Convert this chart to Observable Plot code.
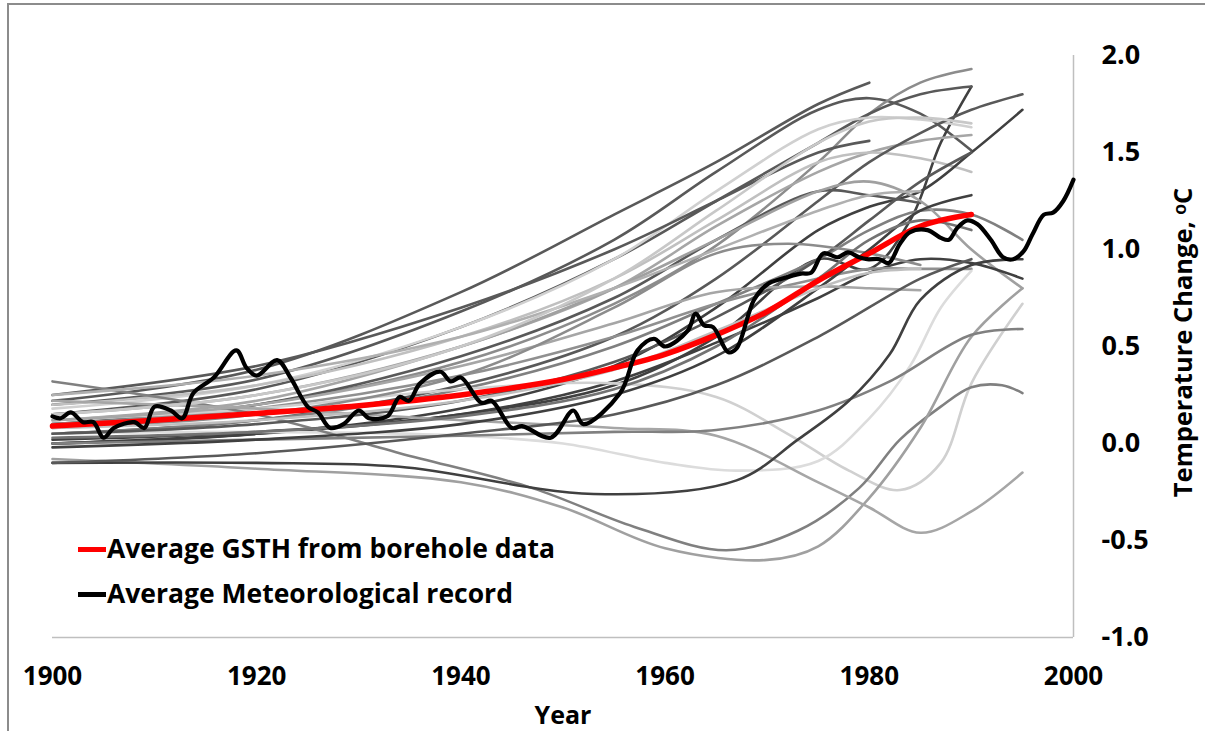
<!DOCTYPE html>
<html><head><meta charset="utf-8">
<script src="https://cdn.jsdelivr.net/npm/d3@7"></script>
<script src="https://cdn.jsdelivr.net/npm/@observablehq/plot@0.6"></script>
<style>
html,body{margin:0;padding:0;background:#fff;}
#wrap{position:relative;width:1205px;height:731px;overflow:hidden;font-family:"Open Sans",sans-serif;}
#frame{position:absolute;left:7px;top:3px;width:1300px;height:800px;border-left:2px solid #8c8c8c;border-top:2px solid #8c8c8c;}
#chart{position:absolute;left:0;top:0;}
#legend{position:absolute;left:78px;top:526px;font-weight:700;font-size:26.5px;color:#000;line-height:45px;white-space:nowrap;}
#legend .sw{display:inline-block;width:28px;height:5px;vertical-align:middle;margin-right:1px;position:relative;top:-1px;}
</style></head>
<body><div id="wrap"><div id="frame"></div><div id="chart"></div>
<div id="legend"><div><span class="sw" style="background:#ff0000"></span>Average GSTH from borehole data</div><div><span class="sw" style="background:#000"></span>Average Meteorological record</div></div>
</div>
<script>
// x tick labels and y tick labels
const xTicks = [1900, 1920, 1940, 1960, 1980, 2000];
const yTicks = [-1.0, -0.5, 0.0, 0.5, 1.0, 1.5, 2.0];

// Average GSTH (red)
const gsthYears = [1900,1910,1920,1930,1940,1950,1955,1960,1965,1970,1975,1980,1985,1990];
const gsthValues = [0.09,0.12,0.155,0.195,0.25,0.33,0.39,0.46,0.56,0.68,0.84,0.98,1.12,1.18];

// Average meteorological record (black)
const metYears = [1900,1900.8,1901.8,1903,1904,1905,1906,1908,1909,1910,1911.6,1912.7,1913.8,1915.8,1918,1919,1920,1922,1923.3,1925,1926,1927.2,1928.5,1930,1931,1932.8,1934,1934.9,1936,1938,1939,1940,1942,1943,1945,1946,1948.8,1951,1952,1955.6,1957.3,1958.9,1960,1962.2,1963,1963.8,1964.7,1966.2,1967,1968.7,1970,1971.5,1973.3,1974.3,1975.5,1976.9,1977.9,1979,1979.8,1981,1981.9,1983,1984,1985.7,1987,1987.8,1988.6,1989.6,1990.6,1991.9,1993.1,1994.1,1995.1,1996,1997.1,1998,1999,2000];
const metValues = [0.14,0.13,0.16,0.11,0.11,0.03,0.08,0.11,0.08,0.19,0.17,0.13,0.26,0.34,0.48,0.39,0.35,0.43,0.34,0.19,0.16,0.08,0.10,0.17,0.13,0.14,0.24,0.22,0.31,0.37,0.32,0.34,0.21,0.22,0.08,0.09,0.03,0.17,0.10,0.26,0.48,0.54,0.50,0.58,0.67,0.61,0.60,0.47,0.49,0.74,0.82,0.85,0.876,0.88,0.98,0.96,0.985,0.96,0.95,0.95,0.93,1.03,1.09,1.10,1.06,1.05,1.11,1.15,1.13,1.05,0.96,0.95,0.99,1.08,1.18,1.19,1.25,1.36];

// Individual borehole GSTH curves: [year, value] pairs
const boreholeCurves = [
  [[1900,0.22],[1920,0.38],[1940,0.78],[1955,1.18],[1965,1.45],[1975,1.75],[1980,1.86]],
  [[1900,0.20],[1920,0.33],[1940,0.68],[1955,1.05],[1965,1.40],[1975,1.72],[1980,1.78],[1985,1.70],[1990,1.51]],
  [[1900,0.10],[1920,0.20],[1940,0.42],[1955,0.72],[1965,1.02],[1975,1.45],[1980,1.70],[1985,1.86],[1990,1.93]],
  [[1900,0.00],[1920,0.05],[1940,0.15],[1955,0.30],[1965,0.55],[1975,0.95],[1980,0.90],[1984,1.15],[1987,1.55],[1990,1.84]],
  [[1900,0.15],[1920,0.28],[1940,0.60],[1955,0.95],[1965,1.25],[1975,1.55],[1980,1.70],[1985,1.80],[1990,1.84]],
  [[1900,0.18],[1920,0.30],[1940,0.60],[1955,0.95],[1965,1.30],[1975,1.62],[1980,1.68],[1985,1.67],[1990,1.63]],
  [[1900,0.12],[1920,0.22],[1940,0.50],[1955,0.80],[1965,1.12],[1975,1.40],[1980,1.50],[1985,1.56],[1990,1.59]],
  [[1900,0.20],[1920,0.30],[1940,0.55],[1955,0.85],[1965,1.15],[1975,1.45],[1980,1.50],[1985,1.47],[1990,1.40]],
  [[1900,0.05],[1920,0.12],[1940,0.30],[1955,0.55],[1965,0.85],[1975,1.25],[1980,1.45],[1985,1.60],[1990,1.72],[1995,1.80]],
  [[1900,0.00],[1920,0.05],[1940,0.18],[1955,0.40],[1965,0.70],[1975,1.10],[1980,1.22],[1985,1.30],[1990,1.50],[1995,1.72]],
  [[1900,0.25],[1920,0.40],[1940,0.70],[1955,1.00],[1965,1.25],[1975,1.50],[1980,1.56]],
  [[1900,0.10],[1920,0.20],[1940,0.45],[1955,0.75],[1965,1.05],[1975,1.30],[1980,1.28],[1985,1.24]],
  [[1900,0.05],[1920,0.12],[1940,0.28],[1955,0.50],[1965,0.72],[1975,0.95],[1980,1.10],[1985,1.20],[1990,1.18],[1995,1.05]],
  [[1900,0.15],[1920,0.25],[1940,0.50],[1955,0.80],[1965,1.05],[1975,1.30],[1980,1.35],[1985,1.25],[1990,1.00],[1995,0.80]],
  [[1900,0.02],[1920,0.06],[1940,0.15],[1955,0.32],[1965,0.52],[1975,0.75],[1980,0.88],[1985,0.95],[1990,0.93],[1995,0.85]],
  [[1900,0.10],[1920,0.18],[1940,0.35],[1955,0.55],[1965,0.72],[1975,0.85],[1980,0.90],[1985,0.90],[1990,0.90]],
  [[1900,0.12],[1920,0.18],[1940,0.28],[1955,0.31],[1965,0.24],[1972,0.05],[1978,-0.14],[1983,-0.24],[1987,-0.10],[1990,0.31],[1995,0.72]],
  [[1900,0.05],[1920,0.06],[1940,0.04],[1950,0.00],[1960,-0.10],[1967,-0.14],[1975,-0.09],[1980,0.13],[1984,0.40],[1987,0.70],[1990,0.89]],
  [[1900,0.32],[1920,0.15],[1934,-0.05],[1947,-0.23],[1957,-0.43],[1966,-0.55],[1973,-0.45],[1979,-0.23],[1983,0.02],[1987,0.19],[1990,0.29],[1993,0.30],[1995,0.26]],
  [[1900,-0.08],[1920,-0.13],[1940,-0.20],[1950,-0.33],[1960,-0.54],[1970,-0.60],[1975,-0.53],[1980,-0.28],[1985,0.08],[1990,0.55],[1995,0.80]],
  [[1900,0.22],[1920,0.18],[1940,0.12],[1955,0.08],[1965,0.04],[1975,-0.20],[1980,-0.33],[1985,-0.46],[1990,-0.35],[1995,-0.15]],
  [[1900,0.00],[1920,0.02],[1940,0.04],[1955,0.06],[1965,0.07],[1975,0.17],[1982,0.32],[1990,0.56],[1995,0.59]],
  [[1900,-0.10],[1920,-0.10],[1934,-0.12],[1953,-0.26],[1967,-0.19],[1973,0.02],[1978,0.22],[1982,0.46],[1985,0.74],[1990,0.92],[1995,0.95]],
  [[1900,0.05],[1920,0.10],[1940,0.22],[1955,0.42],[1965,0.65],[1975,0.95],[1980,1.15],[1985,1.35],[1990,1.50]],
  [[1900,0.12],[1920,0.20],[1940,0.40],[1955,0.62],[1965,0.78],[1975,0.81],[1980,0.80],[1985,0.79]],
  [[1900,0.08],[1920,0.15],[1940,0.35],[1955,0.70],[1965,0.98],[1972,1.03],[1980,0.98],[1985,0.92]],
  [[1900,-0.02],[1920,0.02],[1940,0.10],[1955,0.25],[1965,0.45],[1975,0.80],[1980,1.00],[1985,1.20],[1990,1.28]],
  [[1900,-0.10],[1920,-0.05],[1940,0.05],[1955,0.15],[1965,0.30],[1975,0.55],[1985,0.85],[1990,0.95]],
  [[1900,0.25],[1920,0.35],[1940,0.55],[1955,0.80],[1965,1.00],[1975,1.20],[1980,1.28],[1985,1.30]],
  [[1900,0.15],[1920,0.25],[1940,0.50],[1955,0.85],[1965,1.20],[1975,1.55],[1980,1.66],[1985,1.68],[1990,1.65]],
  [[1900,0.03],[1920,0.06],[1940,0.14],[1955,0.28],[1965,0.50],[1975,0.85],[1980,1.05],[1985,1.15],[1990,1.10]],
  [[1900,0.08],[1920,0.12],[1940,0.22],[1955,0.38],[1965,0.58],[1975,0.80],[1980,0.88],[1985,0.90]]
];
const boreholeShades = ["#595959","#595959","#8c8c8c","#404040","#595959","#d0d0d0","#a6a6a6","#c0c0c0","#595959","#404040","#595959","#595959","#808080","#a0a0a0","#404040","#909090","#d0d0d0","#dcdcdc","#808080","#a0a0a0","#a6a6a6","#808080","#404040","#595959","#a6a6a6","#8c8c8c","#404040","#595959","#b0b0b0","#c8c8c8","#737373","#bfbfbf"];

const boreholeRows = boreholeCurves.flatMap((c, i) => c.map(([year, value]) => ({id: i, year, value, shade: boreholeShades[i]})));
const gsthRows = gsthYears.map((year, i) => ({year, value: gsthValues[i]}));
const metRows = metYears.map((year, i) => ({year, value: metValues[i]}));

const chart = Plot.plot({
  width: 1205, height: 731,
  marginLeft: 52, marginRight: 132, marginTop: 55, marginBottom: 94,
  style: {fontFamily: "'Open Sans', sans-serif", background: "transparent", overflow: "visible"},
  x: {domain: [1900, 2000]},
  y: {domain: [-1, 2]},
  marks: [
    Plot.ruleX([2000], {stroke: "#bfbfbf", strokeWidth: 1.5}),
    Plot.ruleY([-1], {stroke: "#bfbfbf", strokeWidth: 1.5}),
    Plot.line(boreholeRows, {x: "year", y: "value", z: "id", stroke: "shade", strokeWidth: 2.6, curve: "catmull-rom"}),
    Plot.line(gsthRows, {x: "year", y: "value", stroke: "#ff0000", strokeWidth: 5.5, curve: "catmull-rom"}),
    Plot.line(metRows, {x: "year", y: "value", stroke: "#000", strokeWidth: 4.2, curve: "catmull-rom"}),
    Plot.axisX(xTicks, {anchor: "bottom", tickSize: 0, tickPadding: 29, tickFormat: d => String(d), fontSize: 26, fontWeight: 700, label: null}),
    Plot.axisY(yTicks, {anchor: "right", tickSize: 0, tickPadding: 28, tickFormat: d => d.toFixed(1), fontSize: 27, fontWeight: 700, label: null, textAnchor: "start"}),
    Plot.text(["Year"], {frameAnchor: "bottom", dy: 78, lineAnchor: "middle", textAnchor: "middle", fontSize: 25, fontWeight: 700}),
    Plot.text(["Temperature Change, ᵒC"], {frameAnchor: "right", dx: 110, dy: -4, rotate: -90, textAnchor: "middle", lineAnchor: "middle", fontSize: 25.5, fontWeight: 700})
  ]
});
document.getElementById("chart").appendChild(chart);
</script></body></html>
